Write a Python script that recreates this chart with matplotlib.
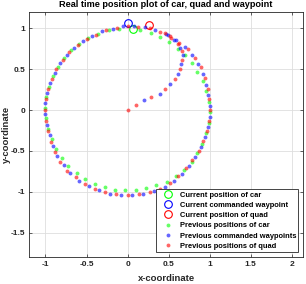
import numpy as np
import matplotlib
matplotlib.use("Agg")
import matplotlib.pyplot as plt

plt.rcParams['font.family'] = ['Liberation Sans', 'DejaVu Sans']

# current positions
car_now = (0.06, 0.99)
wp_now = (0.01, 1.06)
quad_now = (0.26, 1.04)

# previous positions of car (green)
car_x = [0.99, 0.96, 0.92, 0.85, 0.78, 0.70, 0.61, 0.51, 0.39, 0.28, 0.15,
         -0.10, -0.23, -0.36, -0.48, -0.59, -0.69, -0.78, -0.85, -0.91, -0.96, -0.99,
         -1.00, -0.99, -0.97, -0.92, -0.87, -0.80, -0.72, -0.62, -0.52, -0.40, -0.28,
         -0.15, -0.03, 0.10, 0.23, 0.35, 0.48, 0.59, 0.69, 0.78, 0.85, 0.91, 0.96,
         0.99, 1.00]
car_y = [0.10, 0.23, 0.35, 0.46, 0.57, 0.67, 0.75, 0.83, 0.89, 0.94, 0.98,
         0.99, 0.97, 0.93, 0.88, 0.81, 0.73, 0.63, 0.52, 0.41, 0.28, 0.16,
         0.03, -0.10, -0.23, -0.35, -0.47, -0.58, -0.68, -0.77, -0.84, -0.90, -0.94,
         -0.97, -0.98, -0.97, -0.95, -0.92, -0.88, -0.81, -0.73, -0.63, -0.52, -0.41, -0.28,
         -0.16, -0.03]

# previous commanded waypoints (blue)
wp_x = [0.20, 0.39, 0.52, 0.62, 0.65, 0.67, 0.64, 0.57, 0.49,
        1.00, 0.98, 0.96, 0.92, 0.86, 0.79, 0.70, 0.59, 0.47, 0.34, 0.21, 0.08,
        -0.05, -0.18, -0.31, -0.43, -0.54, -0.65, -0.74, -0.82, -0.89, -0.94, -0.98,
        -1.00, -1.00, -0.98, -0.95, -0.91, -0.86, -0.78, -0.70, -0.59, -0.47, -0.35,
        -0.22, -0.08, 0.05, 0.19, 0.32, 0.45, 0.56, 0.66, 0.75, 0.82, 0.89, 0.94,
        0.98, 1.00]
wp_y = [0.12, 0.20, 0.32, 0.44, 0.56, 0.67, 0.76, 0.85, 0.91,
        0.05, 0.18, 0.31, 0.44, 0.56, 0.67, 0.77, 0.86, 0.93, 0.97, 1.01, 1.02,
        1.02, 0.99, 0.96, 0.90, 0.84, 0.76, 0.67, 0.57, 0.45, 0.33, 0.21,
        0.08, -0.05, -0.18, -0.31, -0.44, -0.56, -0.67, -0.77, -0.86, -0.93, -0.98,
        -1.02, -1.04, -1.04, -1.02, -0.99, -0.94, -0.86, -0.78, -0.68, -0.57, -0.45, -0.33,
        -0.21, -0.08]

# previous positions of quad (red)
quad_x = [0.00, 0.10, 0.29, 0.46, 0.58, 0.64, 0.66, 0.66, 0.61, 0.53, 0.45,
          1.00, 0.99, 0.98, 0.94, 0.89, 0.82, 0.74, 0.63, 0.52, 0.39, 0.27, 0.13,
          0.00, -0.13, -0.26, -0.38, -0.50, -0.61, -0.71, -0.79, -0.87, -0.92, -0.97,
          -0.99, -1.00, -0.99, -0.97, -0.93, -0.88, -0.82, -0.74, -0.63, -0.52, -0.40,
          -0.27, -0.14, 0.00, 0.14, 0.27, 0.40, 0.52, 0.62, 0.71, 0.79, 0.87, 0.92,
          0.97, 0.99]
quad_y = [0.00, 0.06, 0.16, 0.26, 0.38, 0.50, 0.61, 0.72, 0.80, 0.88, 0.94,
          0.00, 0.13, 0.26, 0.39, 0.52, 0.63, 0.74, 0.82, 0.90, 0.95, 1.00, 1.01,
          1.02, 1.00, 0.98, 0.92, 0.87, 0.79, 0.71, 0.61, 0.50, 0.38, 0.26,
          0.13, 0.00, -0.13, -0.26, -0.39, -0.51, -0.63, -0.74, -0.82, -0.90, -0.96,
          -1.00, -1.03, -1.04, -1.03, -1.00, -0.96, -0.89, -0.81, -0.71, -0.61, -0.50, -0.38,
          -0.26, -0.13]

labels = ['Current position of car', 'Current commanded waypoint',
          'Current position of quad', 'Previous positions of car',
          'Previous commanded waypoints', 'Previous positions of quad']

fig = plt.figure(figsize=(3.06, 2.84), dpi=100)
ax = fig.add_axes([0.095, 0.096, 0.896, 0.863])

big = dict(marker='o', linestyle='none', markersize=5.5, markerfacecolor='none',
           markeredgewidth=0.8)
small = dict(marker='o', linestyle='none', markersize=2.8, markeredgewidth=0,
             alpha=0.6)

ax.plot(*car_now, color=(0, 1, 0), label=labels[0], **big)
ax.plot(*wp_now, color=(0, 0, 1), label=labels[1], **big)
ax.plot(*quad_now, color=(1, 0, 0), label=labels[2], **big)
ax.plot(car_x, car_y, color=(0, 1, 0), label=labels[3], **small)
ax.plot(wp_x, wp_y, color=(0, 0, 1), label=labels[4], **small)
ax.plot(quad_x, quad_y, color=(1, 0, 0), label=labels[5], **small)

ax.set_xlim(-1.2, 2.14)
ax.set_ylim(-1.79, 1.2)
ax.set_xticks([-1, -0.5, 0, 0.5, 1, 1.5, 2])
ax.set_xticklabels(['-1', '-0.5', '0', '0.5', '1', '1.5', '2'], fontweight='bold')
ax.set_yticks([-1.5, -1, -0.5, 0, 0.5, 1])
ax.set_yticklabels(['-1.5', '-1', '-0.5', '0', '0.5', '1'], fontweight='bold')
ax.grid(True, color='#dedede', linewidth=0.6)
ax.set_axisbelow(True)
ax.tick_params(direction='in', length=2.5, width=0.5, labelsize=6.0,
               top=True, right=True, pad=3, colors='#262626')
for s in ax.spines.values():
    s.set_linewidth(0.6)
    s.set_color('#262626')

ax.set_title('Real time position plot of car, quad and waypoint',
             fontsize=6.6, fontweight='bold', pad=3)
ax.set_xlabel('x-coordinate', fontsize=6.8, fontweight='bold', color='#262626')
ax.set_ylabel('y-coordinate', fontsize=6.8, fontweight='bold', color='#262626')
ax.xaxis.set_label_coords(0.5, -0.07)
ax.yaxis.set_label_coords(-0.066, 0.5)

leg = ax.legend(loc='lower right', bbox_to_anchor=(0.982, 0.019),
                borderaxespad=0, prop={'size': 5.4, 'weight': 'bold'},
                fancybox=False, framealpha=1,
                edgecolor='#262626', handlelength=2.4, handletextpad=0.4,
                labelspacing=0.4, borderpad=0.3, markerscale=1.0)
leg.get_frame().set_linewidth(0.6)

fig.savefig('out.png', dpi=100)
